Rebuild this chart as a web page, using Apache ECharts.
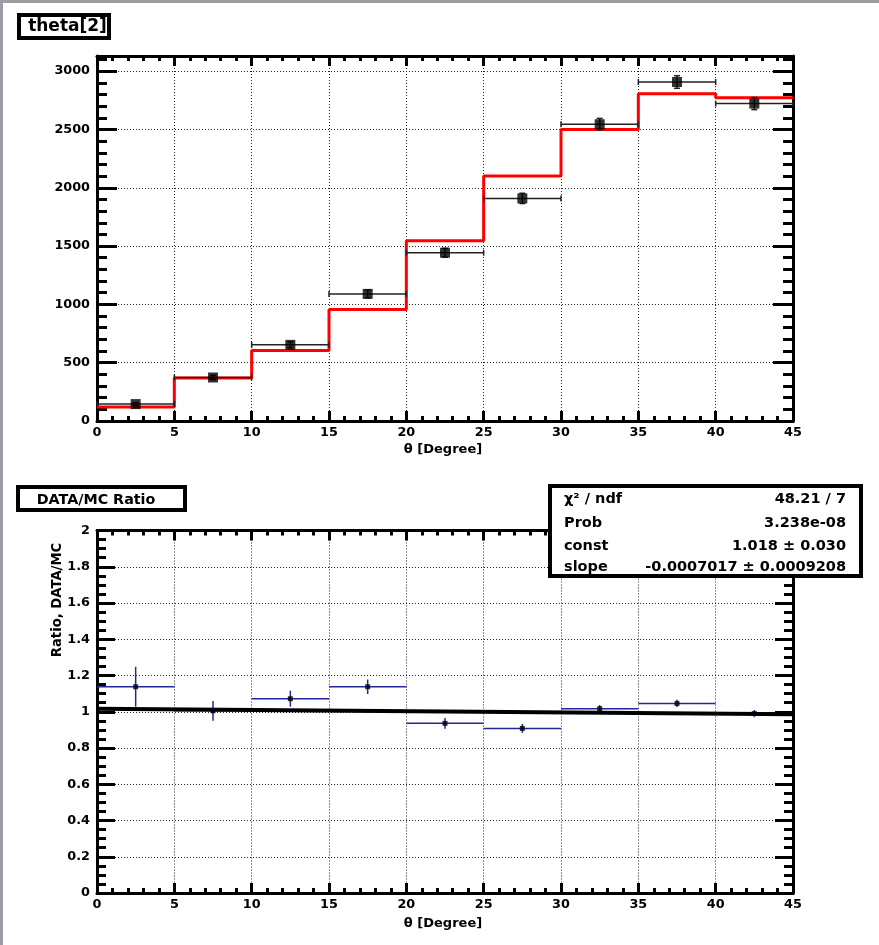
<!DOCTYPE html>
<html><head><meta charset="utf-8">
<script src="https://cdn.jsdelivr.net/npm/echarts@6/dist/echarts.min.js"></script>
<style>html,body{margin:0;padding:0;background:#fff}#c{width:879px;height:945px}</style>
</head><body><div id="c"></div>
<script>
// ---- data ----
const binEdges   = [0, 5, 10, 15, 20, 25, 30, 35, 40, 45];
const binCenters = [2.5, 7.5, 12.5, 17.5, 22.5, 27.5, 32.5, 37.5, 42.5];
const dataCounts = [145, 373, 653, 1090, 1443, 1909, 2545, 2907, 2722];
const dataErrors = [12, 19, 26, 33, 38, 44, 50, 54, 52];
const mcCounts   = [120, 368, 604, 956, 1546, 2100, 2499, 2807, 2773];
const ratioVals  = [1.138, 1.005, 1.072, 1.138, 0.936, 0.908, 1.017, 1.046, 0.99];
const ratioErrs  = [0.11, 0.055, 0.044, 0.04, 0.03, 0.025, 0.02, 0.02, 0.02];
const fitX = [0, 45];
const fitY = [1.016, 0.986];
const topYTicks = [0, 500, 1000, 1500, 2000, 2500, 3000];
const xTicks = [0, 5, 10, 15, 20, 25, 30, 35, 40, 45];
const ratioTicks = [0, 0.2, 0.4, 0.6, 0.8, 1, 1.2, 1.4, 1.6, 1.8, 2];
const statLabels = ['\u03C7\u00B2 / ndf', 'Prob', 'const', 'slope'];
const statValues = ['48.21 / 7', '3.238e-08', '1.018 \u00B1 0.030', '-0.0007017 \u00B1 0.0009208'];

const FONT = 'DejaVu Sans';
const chart = echarts.init(document.getElementById('c'), null, {renderer: 'canvas'});

function labelStyle(show, margin, fmt) {
  return {show: show, fontFamily: FONT, fontWeight: 'bold', fontSize: 12.8, color: '#000', margin: margin, formatter: fmt};
}
function xAx(grid, pos, show) {
  return {
    type: 'value', gridIndex: grid, position: pos,
    min: xTicks[0], max: xTicks[xTicks.length - 1], interval: xTicks[1] - xTicks[0],
    axisLine: {show: true, onZero: false, lineStyle: {color: '#000', width: 3}},
    axisTick: {show: true, inside: true, length: 10, lineStyle: {color: '#000', width: 3}},
    minorTick: {show: true, splitNumber: 5, length: 5, lineStyle: {color: '#000', width: 3}},
    splitLine: {show: show, lineStyle: {type: [1, 2], color: '#222', width: 1}},
    axisLabel: labelStyle(show, 5, v => String(v))
  };
}
const topMax = 3130;
function yTop(pos, major, show) {
  return {
    type: 'value', gridIndex: 0, position: pos, min: 0, max: topMax,
    interval: major ? (topYTicks[1] - topYTicks[0]) : (topYTicks[1] - topYTicks[0]) / 5,
    axisLine: {show: major, onZero: false, lineStyle: {color: '#000', width: 3}},
    axisTick: {show: true, inside: true, length: major ? 20 : 10, lineStyle: {color: '#000', width: 3}},
    splitLine: {show: major && show, lineStyle: {type: [1, 2], color: '#222', width: 1}},
    axisLabel: labelStyle(major && show, 7, v => (topYTicks.indexOf(v) >= 0 ? String(v) : ''))
  };
}
function yRatio(pos, show) {
  return {
    type: 'value', gridIndex: 1, position: pos,
    min: ratioTicks[0], max: ratioTicks[ratioTicks.length - 1], interval: 0.2,
    axisLine: {show: true, onZero: false, lineStyle: {color: '#000', width: 3}},
    axisTick: {show: true, inside: true, length: 18, lineStyle: {color: '#000', width: 3}},
    minorTick: {show: true, splitNumber: 4, length: 9, lineStyle: {color: '#000', width: 3}},
    splitLine: {show: show, lineStyle: {type: [1, 2], color: '#222', width: 1}},
    axisLabel: labelStyle(show, 7, v => String(Math.round(v * 10) / 10))
  };
}

// histogram step data built from bins
const mcStep = binEdges.map((e, i) => [e, mcCounts[Math.min(i, mcCounts.length - 1)]]);
const topErrData = binCenters.map((c, i) => [binEdges[i], binEdges[i + 1], c, dataCounts[i], dataErrors[i]]);
const ratioErrData = binCenters.map((c, i) => [binEdges[i], binEdges[i + 1], c, ratioVals[i], ratioErrs[i]]);

function errRender(color, width, caps) {
  return function (params, api) {
    const xlo = api.value(0), xhi = api.value(1), xc = api.value(2), y = api.value(3), e = api.value(4);
    const a = api.coord([xlo, y]), b = api.coord([xhi, y]);
    const t = api.coord([xc, y + e]), d = api.coord([xc, y - e]);
    const st = {stroke: color, lineWidth: width};
    const ch = [
      {type: 'line', shape: {x1: a[0], y1: a[1], x2: b[0], y2: b[1]}, style: st},
      {type: 'line', shape: {x1: t[0], y1: t[1], x2: d[0], y2: d[1]}, style: st}
    ];
    if (caps) {
      ch.push({type: 'line', shape: {x1: a[0], y1: a[1] - caps, x2: a[0], y2: a[1] + caps}, style: st});
      ch.push({type: 'line', shape: {x1: b[0], y1: b[1] - caps, x2: b[0], y2: b[1] + caps}, style: st});
      ch.push({type: 'line', shape: {x1: t[0] - caps, y1: t[1], x2: t[0] + caps, y2: t[1]}, style: st});
      ch.push({type: 'line', shape: {x1: d[0] - caps, y1: d[1], x2: d[0] + caps, y2: d[1]}, style: st});
    }
    return {type: 'group', children: ch};
  };
}

function txt(text, x, y, size, align, extra) {
  return Object.assign({
    type: 'text', x: x, y: y, z: 120,
    style: {text: text, font: 'bold ' + size + 'px "' + FONT + '"', fill: '#000',
            align: align, verticalAlign: 'middle', textAlign: align, textVerticalAlign: 'middle'}
  }, extra || {});
}

const statRowsY = [499, 523, 546, 567.5];
const graphics = [
  {type: 'rect', z: 110, shape: {x: 0, y: 0, width: 879, height: 3}, style: {fill: '#9c9ca4'}},
  {type: 'rect', z: 110, shape: {x: 0, y: 0, width: 3, height: 945}, style: {fill: '#9c9ca4'}},
  {type: 'rect', z: 110, shape: {x: 19, y: 15, width: 90, height: 23}, style: {fill: '#fff', stroke: '#000', lineWidth: 4}},
  txt('theta[2]', 67.5, 27, 17, 'center'),
  {type: 'rect', z: 110, shape: {x: 18, y: 487, width: 167, height: 23}, style: {fill: '#fff', stroke: '#000', lineWidth: 4}},
  txt('DATA/MC Ratio', 96, 500, 14.3, 'center'),
  {type: 'rect', z: 110, shape: {x: 550, y: 486, width: 311, height: 90}, style: {fill: '#fff', stroke: '#000', lineWidth: 4}},
  txt('\u03B8 [Degree]', 443, 450, 13, 'center'),
  txt('\u03B8 [Degree]', 443, 924, 13, 'center'),
  txt('Ratio, DATA/MC', 58, 600, 13.2, 'center', {rotation: Math.PI / 2})
];
statLabels.forEach((l, i) => {
  graphics.push(txt(l, 564, statRowsY[i], 14.5, 'left'));
  graphics.push(txt(statValues[i], 846, statRowsY[i], 14.5, 'right'));
});

chart.setOption({
  animation: false,
  backgroundColor: '#fff',
  grid: [
    {left: 97, top: 56, width: 696, height: 365},
    {left: 97, top: 530.5, width: 696, height: 362.5}
  ],
  xAxis: [xAx(0, 'bottom', true), xAx(0, 'top', false), xAx(1, 'bottom', true), xAx(1, 'top', false)],
  yAxis: [
    yTop('left', true, true), yTop('left', false, false),
    yTop('right', true, false), yTop('right', false, false),
    yRatio('left', true), yRatio('right', false)
  ],
  series: [
    {type: 'line', xAxisIndex: 0, yAxisIndex: 0, step: 'end', data: mcStep, symbol: 'none',
     lineStyle: {color: '#ff0000', width: 3}, z: 3},
    {type: 'custom', xAxisIndex: 0, yAxisIndex: 0, data: topErrData, encode: {x: [0, 1, 2], y: 3},
     renderItem: errRender('#222', 1.5, 3), z: 4},
    {type: 'scatter', xAxisIndex: 0, yAxisIndex: 0, symbol: 'rect', symbolSize: 10,
     data: binCenters.map((c, i) => [c, dataCounts[i]]), itemStyle: {color: '#000'}, z: 5},
    {type: 'custom', xAxisIndex: 2, yAxisIndex: 4, data: ratioErrData, encode: {x: [0, 1, 2], y: 3},
     renderItem: errRender('#26269b', 1.5, 0), z: 3},
    {type: 'line', xAxisIndex: 2, yAxisIndex: 4, data: fitX.map((x, i) => [x, fitY[i]]), symbol: 'none',
     lineStyle: {color: '#000', width: 4}, z: 4},
    {type: 'scatter', xAxisIndex: 2, yAxisIndex: 4, symbol: 'rect', symbolSize: 5,
     data: binCenters.map((c, i) => [c, ratioVals[i]]), itemStyle: {color: '#000'}, z: 5}
  ],
  graphic: graphics
});
</script>
</body></html>
